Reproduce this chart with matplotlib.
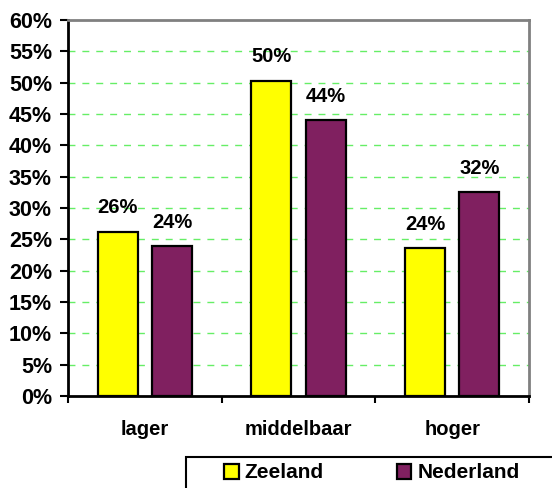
import matplotlib.pyplot as plt
from matplotlib.patches import Rectangle
import numpy as np

plt.rcParams['font.family'] = ['Liberation Sans', 'DejaVu Sans']
plt.rcParams['font.weight'] = 'bold'

# Data
categories = ["lager", "middelbaar", "hoger"]
zeeland = [26.2, 50.3, 23.6]
nederland = [23.9, 44.0, 32.5]
zeeland_labels = ["26%", "50%", "24%"]
nederland_labels = ["24%", "44%", "32%"]
yticks = list(range(0, 61, 5))

fs = 14.5

fig = plt.figure(figsize=(5.52, 4.88), dpi=100)
ax = fig.add_axes([68 / 552, 1 - 396 / 488, 461 / 552, 376 / 488])

x = np.arange(len(categories))
w = 0.26
b1 = ax.bar(x - 0.177, zeeland, w, color="#FFFF00", edgecolor="black", linewidth=1.6,
            label="Zeeland", zorder=3)
b2 = ax.bar(x + 0.177, nederland, w, color="#802060", edgecolor="black", linewidth=1.6,
            label="Nederland", zorder=3)

# Value labels above the bars
for bars, labels in [(b1, zeeland_labels), (b2, nederland_labels)]:
    for rect, lab in zip(bars, labels):
        ax.annotate(lab, (rect.get_x() + rect.get_width() / 2, rect.get_height()),
                    xytext=(0, 10.5), textcoords="offset points", ha="center", va="bottom",
                    fontsize=fs, fontweight="bold")

ax.set_xlim(-0.5, 2.5)
ax.set_ylim(0, 60)
ax.set_yticks(yticks)
ax.set_yticklabels([f"{t}%" for t in yticks], fontsize=15.5, fontweight="bold")
ax.set_xticks(x)
ax.set_xticklabels(categories, fontsize=fs, fontweight="bold")
ax.set_xticks([-0.5, 0.5, 1.5, 2.5], minor=True)
ax.tick_params(axis="x", which="major", length=0, pad=17)
ax.tick_params(axis="x", which="minor", length=5, width=1.5, direction="out")
ax.tick_params(axis="y", length=6, width=1.5, direction="out", pad=5.5)

# Green dashed gridlines
for t in yticks[1:-1]:
    ax.axhline(t, color="#66EE66", linestyle=(0, (5, 5)), linewidth=1, zorder=1)

ax.spines["left"].set_linewidth(2)
ax.spines["bottom"].set_linewidth(2)
ax.spines["top"].set_color("#808080")
ax.spines["right"].set_color("#808080")
ax.spines["top"].set_linewidth(2)
ax.spines["right"].set_linewidth(2)

# Legend box, running off the bottom-right edge of the figure
fig.patches.append(Rectangle((186 / 552, -0.05), 0.8, 0.05 + 1 - 457 / 488,
                             transform=fig.transFigure, facecolor="white",
                             edgecolor="black", linewidth=1.5))
leg = fig.legend(handles=[b1, b2], loc="center left",
                 bbox_to_anchor=(224 / 552, 1 - 473 / 488),
                 ncol=2, fontsize=15, frameon=False, handlelength=0.7,
                 handleheight=0.7, handletextpad=0.3, columnspacing=3.5,
                 borderpad=0, borderaxespad=0)

fig.savefig("out.png", dpi=100)
